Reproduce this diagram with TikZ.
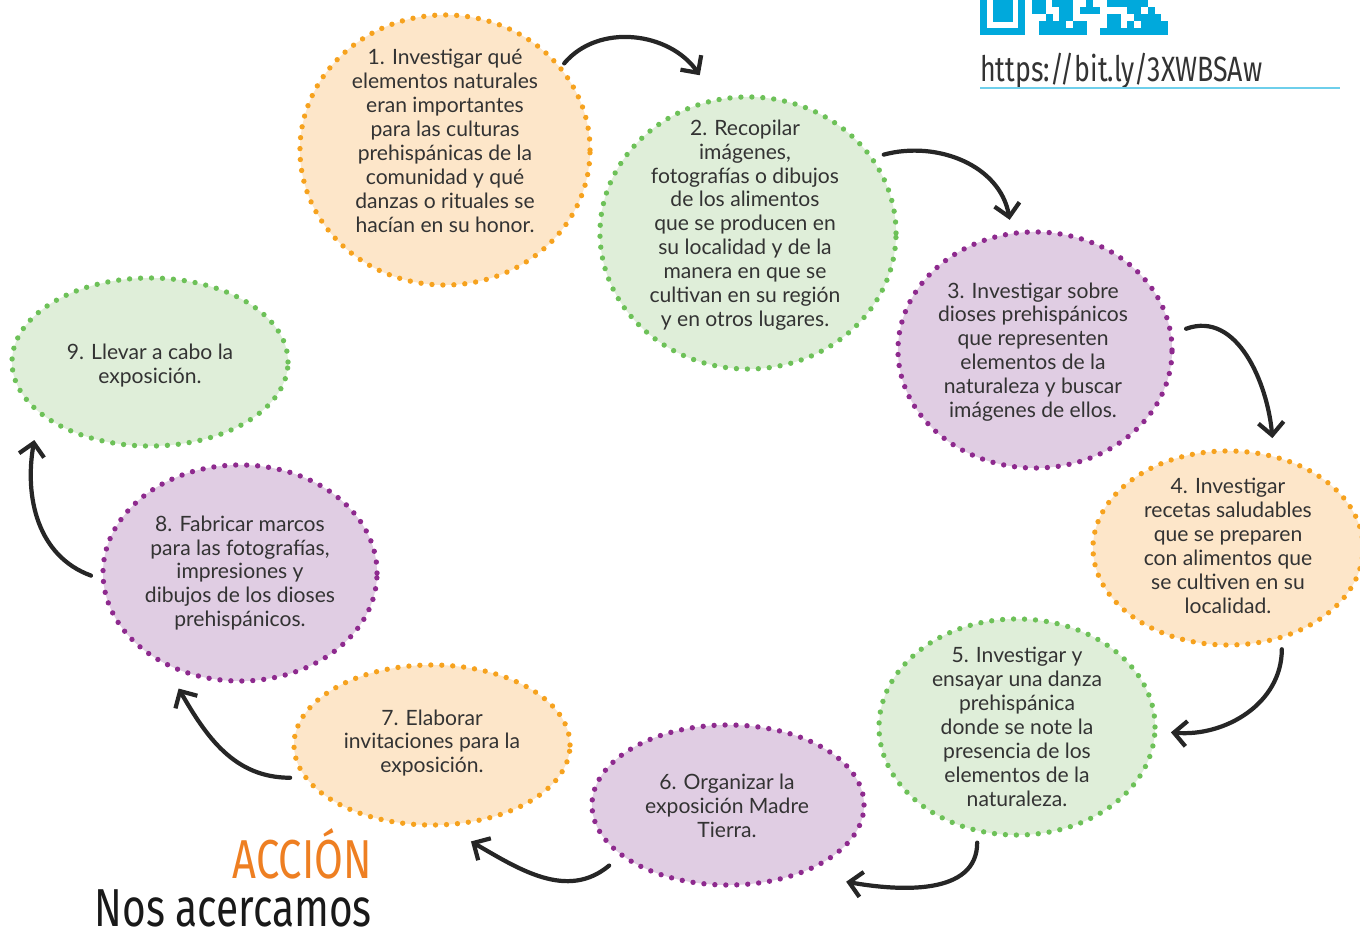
\documentclass[tikz,border=0pt]{standalone}
\usepackage{fontspec}
\setmainfont{Lato}
\newfontfamily\headFont[FakeStretch=0.76]{Fira Sans}
\usepackage{tikz}
\usetikzlibrary{shapes.geometric}
\usetikzlibrary{arrows.meta}
\usetikzlibrary{calc}
\definecolor{orangeFill}{HTML}{FDE6C9}
\definecolor{orangeDot}{HTML}{F6A21E}
\definecolor{greenFill}{HTML}{DFEED9}
\definecolor{greenDot}{HTML}{6DC158}
\definecolor{purpleFill}{HTML}{E0CDE3}
\definecolor{purpleDot}{HTML}{8E2A8E}
\definecolor{qrBlue}{HTML}{00A9DC}
\definecolor{lineBlue}{HTML}{6ECFEB}
\definecolor{accionOrange}{HTML}{EE7F22}
\definecolor{inkGray}{HTML}{333333}
\tikzset{
  stepBubble/.style={ellipse, draw=#1Dot, fill=#1Fill, line width=3.8pt,
    dash pattern=on 0pt off 7.8pt, line cap=round, inner sep=0pt, outer sep=0pt},
  stepText/.style={align=center, text=inkGray, font=\fontsize{15}{17}\selectfont},
  cycleArrow/.style={line width=3pt, line cap=round, draw=black!85,
    -{Straight Barb[length=9pt,width=18pt]}},
}

\begin{document}
\begin{tikzpicture}[x=0.025cm, y=0.025cm]
  \useasboundingbox (0,0) rectangle (1360,940);
  % bubbles
  \node[stepBubble=orange, minimum width=7.25cm, minimum height=6.75cm] (e1) at (445,790) {};
  \node[stepBubble=green, minimum width=7.4cm, minimum height=6.8cm] (e2) at (748,707) {};
  \node[stepBubble=purple, minimum width=6.85cm, minimum height=5.9cm] (e3) at (1035,590) {};
  \node[stepBubble=orange, minimum width=6.75cm, minimum height=4.85cm] (e4) at (1228,392) {};
  \node[stepBubble=green, minimum width=6.9cm, minimum height=5.4cm] (e5) at (1017,213) {};
  \node[stepBubble=purple, minimum width=6.8cm, minimum height=4cm] (e6) at (728,135) {};
  \node[stepBubble=orange, minimum width=6.9cm, minimum height=4cm] (e7) at (432,195) {};
  \node[stepBubble=purple, minimum width=6.85cm, minimum height=5.4cm] (e8) at (240,367) {};
  \node[stepBubble=green, minimum width=6.9cm, minimum height=4.2cm] (e9) at (150,578) {};
  % texts
  \node[stepText] (t1) at (445,799) {1. Investigar qué\\elementos naturales\\eran importantes\\para las culturas\\prehispánicas de la\\comunidad y qué\\danzas o rituales se\\hacían en su honor.};
  \node[stepText] (t2) at (745,715) {2. Recopilar\\imágenes,\\fotografías o dibujos\\de los alimentos\\que se producen en\\su localidad y de la\\manera en que se\\cultivan en su región\\y en otros lugares.};
  \node[stepText] (t3) at (1033,588) {3. Investigar sobre\\dioses prehispánicos\\que representen\\elementos de la\\naturaleza y buscar\\imágenes de ellos.};
  \node[stepText] (t4) at (1228,394) {4. Investigar\\recetas saludables\\que se preparen\\con alimentos que\\se cultiven en su\\localidad.};
  \node[stepText] (t5) at (1017,213) {5. Investigar y\\ensayar una danza\\prehispánica\\donde se note la\\presencia de los\\elementos de la\\naturaleza.};
  \node[stepText] (t6) at (727,134) {6. Organizar la\\exposición Madre\\Tierra.};
  \node[stepText] (t7) at (432,197) {7. Elaborar\\invitaciones para la\\exposición.};
  \node[stepText] (t8) at (240,367) {8. Fabricar marcos\\para las fotografías,\\impresiones y\\dibujos de los dioses\\prehispánicos.};
  \node[stepText] (t9) at (150,574) {9. Llevar a cabo la\\exposición.};
  % arrows
  \draw[cycleArrow] ($(e1.36)!-0.15cm!(e1.center)$) to[out=50, in=125] ($(e2.107)!-0.7cm!(e2.center)$);
  \draw[cycleArrow] ($(e2.30)!-0.3cm!(e2.center)$) to[out=15, in=100] ($(e3.101)!-0.35cm!(e3.center)$);
  \draw[cycleArrow] ($(e3.8)!-0.4cm!(e3.center)$) to[out=20, in=95] ($(e4.68)!-0.45cm!(e4.center)$);
  \draw[cycleArrow] ($(e4.-62)!-0.3cm!(e4.center)$) to[out=-90, in=-5] ($(e5.-2)!-0.4cm!(e5.center)$);
  \draw[cycleArrow] ($(e5.-109)!-0.3cm!(e5.center)$) to[out=-90, in=-10] ($(e6.-33)!-0.8cm!(e6.center)$);
  \draw[cycleArrow] ($(e6.-153)!-0.45cm!(e6.center)$) to[out=-140, in=-30] ($(e7.-68)!-0.5cm!(e7.center)$);
  \draw[cycleArrow] ($(e7.-167)!-0.35cm!(e7.center)$) to[out=180, in=-60] ($(e8.-118)!-0.45cm!(e8.center)$);
  \draw[cycleArrow] ($(e8.181)!-0.3cm!(e8.center)$) to[out=160, in=-100] ($(e9.-146)!-0.7cm!(e9.center)$);
  % qr code (cut at the top)
  \fill[qrBlue] (980,905) rectangle (1025,950);
  \fill[white] (987,912) rectangle (1018,950);
  \fill[qrBlue] (993,918) rectangle (1013,950);
  \foreach \bits [count=\r from 0] in {
      {1,1,0,1,1,1,0,0,1,0,0,1,1,1,1,1,1,0,0,0},
      {1,1,0,0,1,1,0,1,1,1,0,0,0,0,1,1,0,1,0,0},
      {0,0,1,0,1,1,0,0,0,0,0,1,1,0,0,1,1,1,1,0},
      {0,1,1,1,1,0,1,1,0,0,0,1,1,0,1,0,1,1,1,1},
      {0,1,1,1,1,1,1,1,0,0,1,1,1,1,1,1,1,1,1,1}}{
    \foreach \b [count=\c from 0] in \bits {
      \ifnum\b=1 \fill[qrBlue] ({1032+6.8*\c},{940-7*\r}) rectangle +(6.9,-7.1); \fi
    }
  }
  \node[anchor=base west, inner sep=0pt, text=inkGray, font=\headFont\fontsize{25}{25}\selectfont] (url) at (980,858) {https://bit.ly/3XWBSAw};
  \coordinate (urlEnd) at (1340,852);
  \draw[lineBlue, line width=1.4pt] (url.south west |- urlEnd) -- (urlEnd);
  % heading
  \node[anchor=base east, inner sep=0pt, text=accionOrange, font=\headFont\fontsize{39}{39}\selectfont] (accion) at (372,62) {ACCIÓN};
  \node[anchor=base east, inner sep=0pt, text=black!90, font=\headFont\fontsize{38}{38}\selectfont] (nos) at (372,14) {Nos acercamos};
\end{tikzpicture}
\end{document}
